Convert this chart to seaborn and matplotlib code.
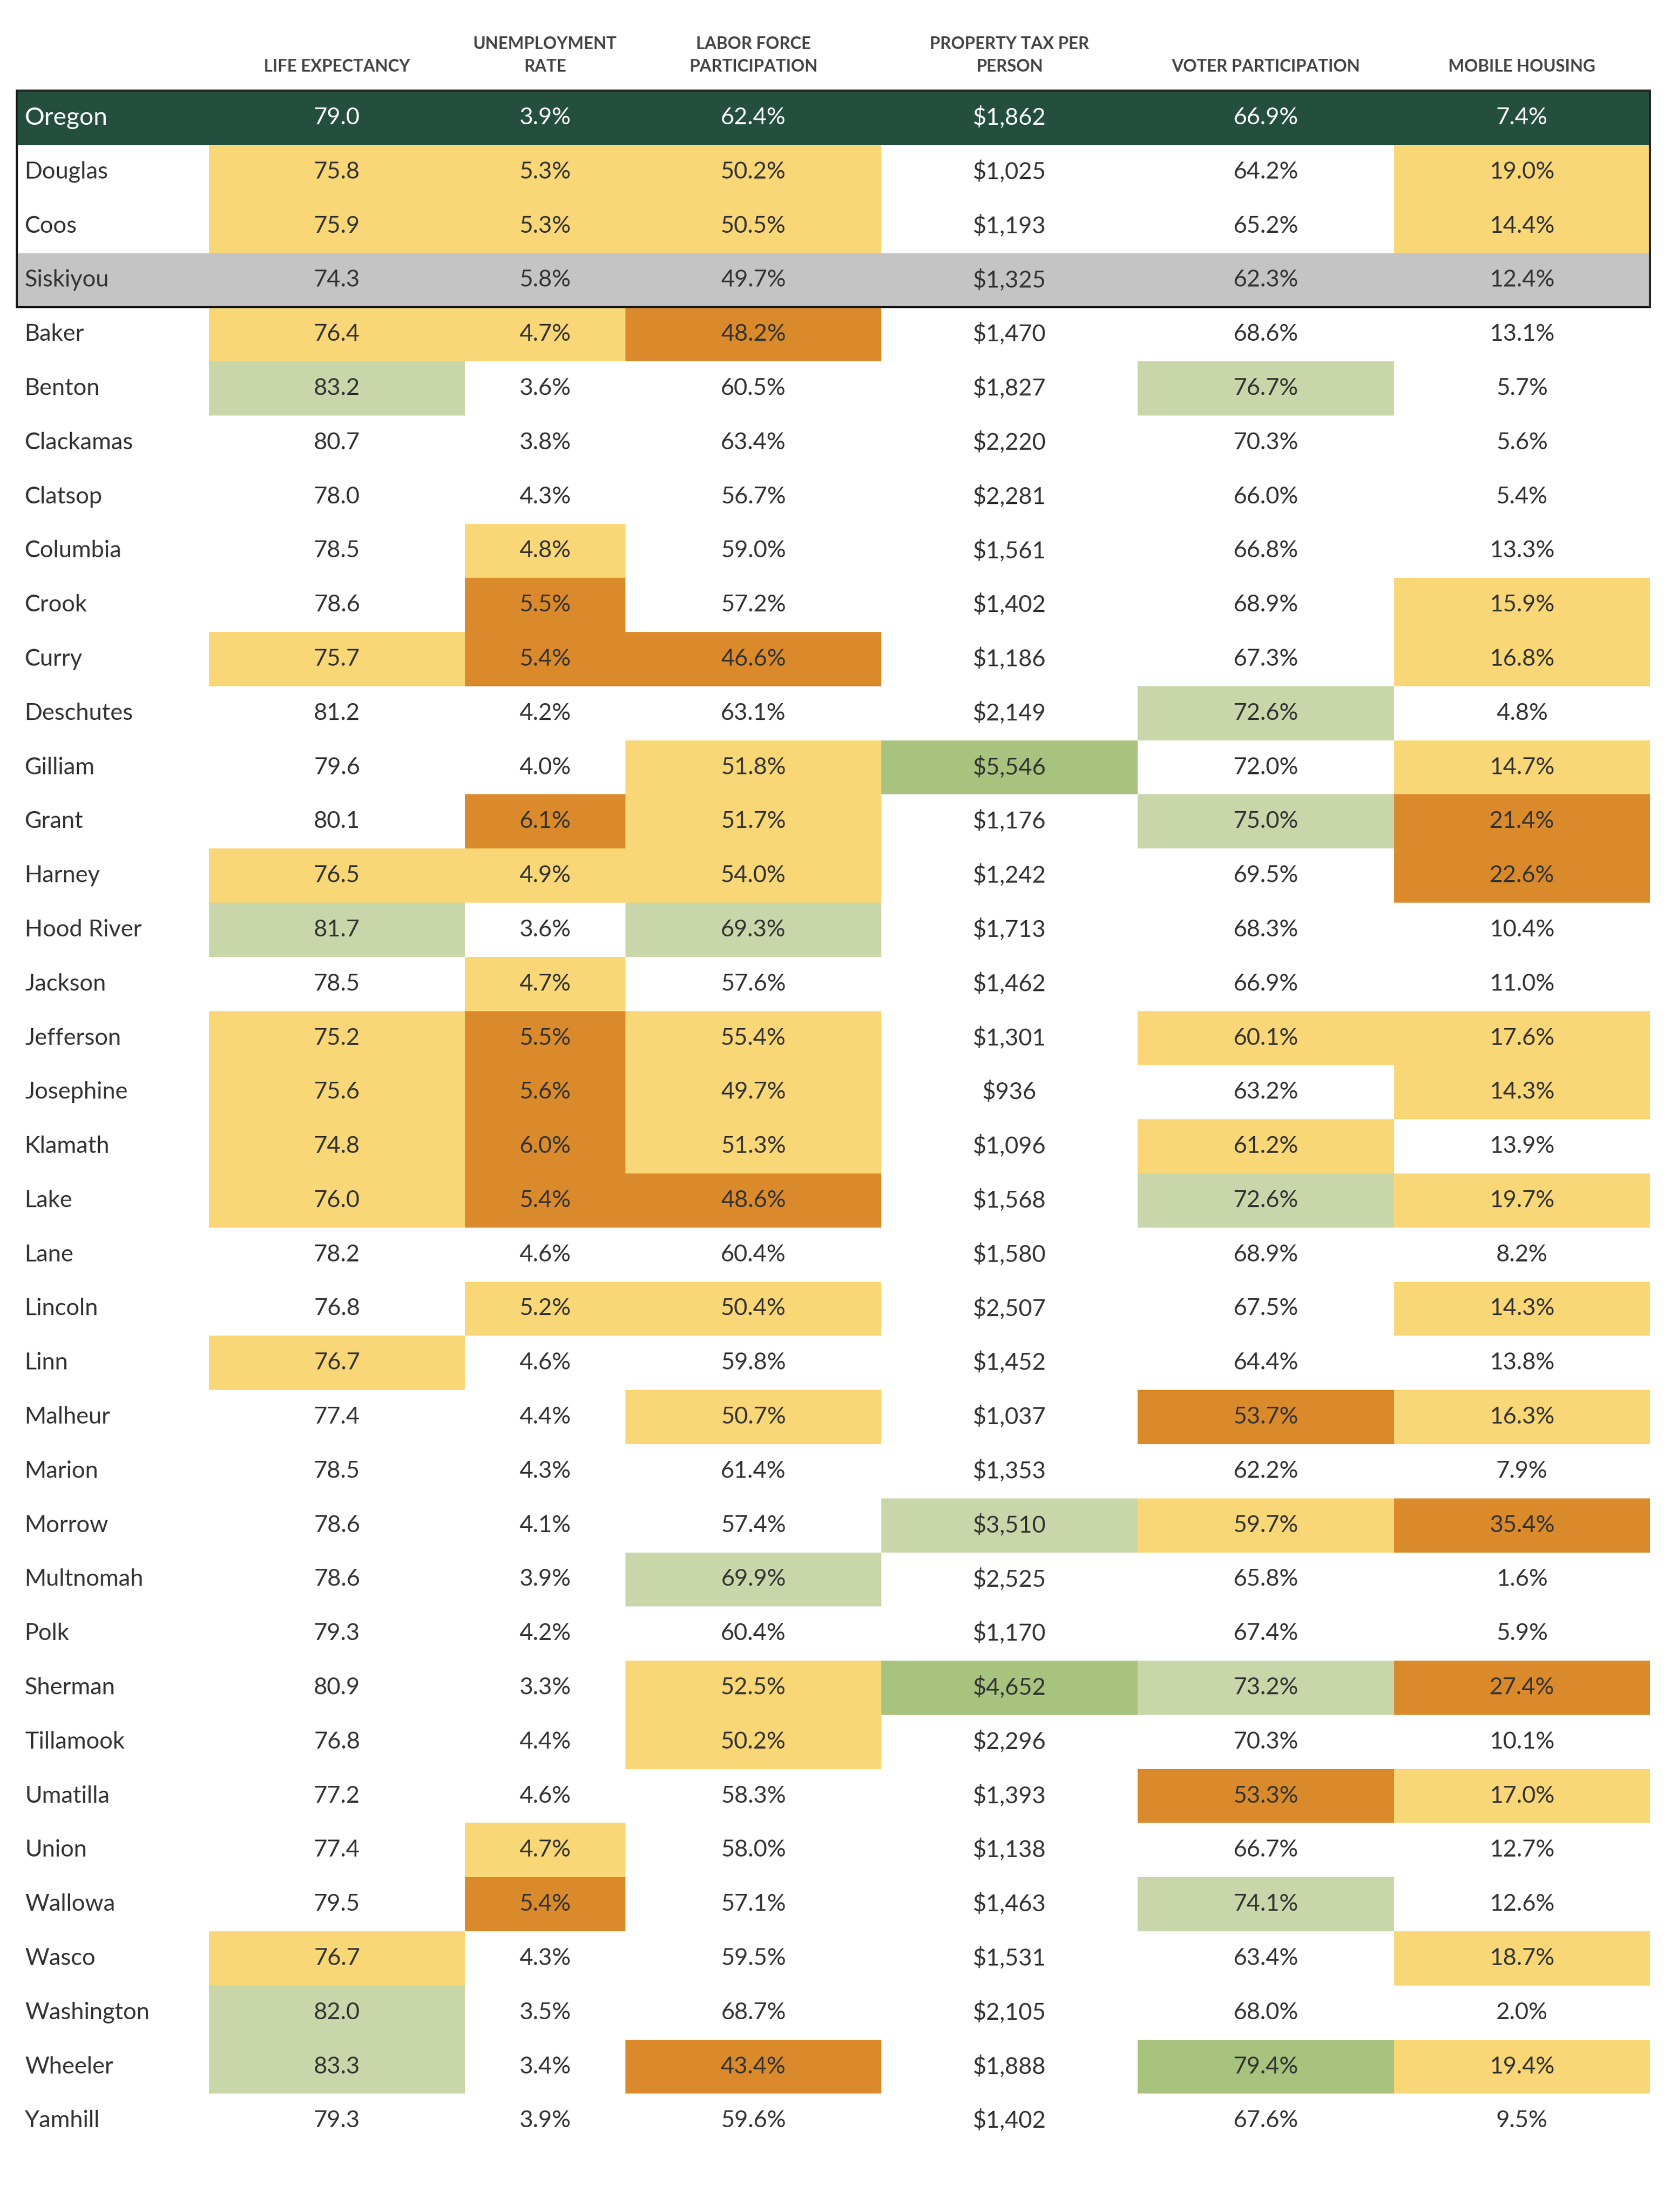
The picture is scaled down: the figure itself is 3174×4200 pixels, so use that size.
import numpy as np
import seaborn as sns
import matplotlib.pyplot as plt
from matplotlib.colors import ListedColormap
from matplotlib.patches import Rectangle

sns.set_theme(style="white")
plt.rcParams['font.family'] = ['Lato', 'DejaVu Sans']

headers = ["LIFE EXPECTANCY", "UNEMPLOYMENT\nRATE", "LABOR FORCE\nPARTICIPATION",
           "PROPERTY TAX PER\nPERSON", "VOTER PARTICIPATION", "MOBILE HOUSING"]

counties = ["Oregon", "Douglas", "Coos", "Siskiyou", "Baker", "Benton", "Clackamas", "Clatsop",
            "Columbia", "Crook", "Curry", "Deschutes", "Gilliam", "Grant", "Harney", "Hood River",
            "Jackson", "Jefferson", "Josephine", "Klamath", "Lake", "Lane", "Lincoln", "Linn",
            "Malheur", "Marion", "Morrow", "Multnomah", "Polk", "Sherman", "Tillamook", "Umatilla",
            "Union", "Wallowa", "Wasco", "Washington", "Wheeler", "Yamhill"]

life = [79.0, 75.8, 75.9, 74.3, 76.4, 83.2, 80.7, 78.0, 78.5, 78.6, 75.7, 81.2, 79.6, 80.1, 76.5, 81.7,
        78.5, 75.2, 75.6, 74.8, 76.0, 78.2, 76.8, 76.7, 77.4, 78.5, 78.6, 78.6, 79.3, 80.9, 76.8, 77.2,
        77.4, 79.5, 76.7, 82.0, 83.3, 79.3]
unemp = [3.9, 5.3, 5.3, 5.8, 4.7, 3.6, 3.8, 4.3, 4.8, 5.5, 5.4, 4.2, 4.0, 6.1, 4.9, 3.6,
         4.7, 5.5, 5.6, 6.0, 5.4, 4.6, 5.2, 4.6, 4.4, 4.3, 4.1, 3.9, 4.2, 3.3, 4.4, 4.6,
         4.7, 5.4, 4.3, 3.5, 3.4, 3.9]
lfp = [62.4, 50.2, 50.5, 49.7, 48.2, 60.5, 63.4, 56.7, 59.0, 57.2, 46.6, 63.1, 51.8, 51.7, 54.0, 69.3,
       57.6, 55.4, 49.7, 51.3, 48.6, 60.4, 50.4, 59.8, 50.7, 61.4, 57.4, 69.9, 60.4, 52.5, 50.2, 58.3,
       58.0, 57.1, 59.5, 68.7, 43.4, 59.6]
proptax = [1862, 1025, 1193, 1325, 1470, 1827, 2220, 2281, 1561, 1402, 1186, 2149, 5546, 1176, 1242, 1713,
           1462, 1301, 936, 1096, 1568, 1580, 2507, 1452, 1037, 1353, 3510, 2525, 1170, 4652, 2296, 1393,
           1138, 1463, 1531, 2105, 1888, 1402]
voter = [66.9, 64.2, 65.2, 62.3, 68.6, 76.7, 70.3, 66.0, 66.8, 68.9, 67.3, 72.6, 72.0, 75.0, 69.5, 68.3,
         66.9, 60.1, 63.2, 61.2, 72.6, 68.9, 67.5, 64.4, 53.7, 62.2, 59.7, 65.8, 67.4, 73.2, 70.3, 53.3,
         66.7, 74.1, 63.4, 68.0, 79.4, 67.6]
mobile = [7.4, 19.0, 14.4, 12.4, 13.1, 5.7, 5.6, 5.4, 13.3, 15.9, 16.8, 4.8, 14.7, 21.4, 22.6, 10.4,
          11.0, 17.6, 14.3, 13.9, 19.7, 8.2, 14.3, 13.8, 16.3, 7.9, 35.4, 1.6, 5.9, 27.4, 10.1, 17.0,
          12.7, 12.6, 18.7, 2.0, 19.4, 9.5]

# colour class per cell: 0 none, 1 yellow, 2 orange, 3 light green, 4 green
codes = [
    [0, 0, 0, 0, 0, 0], [1, 1, 1, 0, 0, 1], [1, 1, 1, 0, 0, 1], [0, 0, 0, 0, 0, 0],
    [1, 1, 2, 0, 0, 0], [3, 0, 0, 0, 3, 0], [0, 0, 0, 0, 0, 0], [0, 0, 0, 0, 0, 0],
    [0, 1, 0, 0, 0, 0], [0, 2, 0, 0, 0, 1], [1, 2, 2, 0, 0, 1], [0, 0, 0, 0, 3, 0],
    [0, 0, 1, 4, 0, 1], [0, 2, 1, 0, 3, 2], [1, 1, 1, 0, 0, 2], [3, 0, 3, 0, 0, 0],
    [0, 1, 0, 0, 0, 0], [1, 2, 1, 0, 1, 1], [1, 2, 1, 0, 0, 1], [1, 2, 1, 0, 1, 0],
    [1, 2, 2, 0, 3, 1], [0, 0, 0, 0, 0, 0], [0, 1, 1, 0, 0, 1], [1, 0, 0, 0, 0, 0],
    [0, 0, 1, 0, 2, 1], [0, 0, 0, 0, 0, 0], [0, 0, 0, 3, 1, 2], [0, 0, 3, 0, 0, 0],
    [0, 0, 0, 0, 0, 0], [0, 0, 1, 4, 3, 2], [0, 0, 1, 0, 0, 0], [0, 0, 0, 0, 2, 1],
    [0, 1, 0, 0, 0, 0], [0, 2, 0, 0, 3, 0], [1, 0, 0, 0, 0, 1], [3, 0, 0, 0, 0, 0],
    [3, 0, 2, 0, 4, 1], [0, 0, 0, 0, 0, 0],
]

palette = ["#FFFFFF", "#F9D676", "#DB8A2B", "#C9D6A9", "#A7C37E", "#244F3F", "#C4C4C4"]
cmap = ListedColormap(palette)

n = len(counties)
grid = np.zeros((n, 7), dtype=int)
grid[:, 1:] = np.array(codes)
grid[0, :] = 5
grid[3, :] = 6

# column widths in grid units (name column + 6 data columns)
widths = [12, 16, 10, 16, 16, 16, 16]
wide = np.repeat(grid, widths, axis=1)
edges = np.concatenate([[0], np.cumsum(widths)])
centers = (edges[:-1] + edges[1:]) / 2

fig = plt.figure(figsize=(31.74, 42), dpi=100)
ax = fig.add_axes([0.01, 0.029, 0.9775, 0.93])
sns.heatmap(wide, cmap=cmap, vmin=-0.5, vmax=6.5, cbar=False, ax=ax,
            xticklabels=False, yticklabels=False, linewidths=0)

cols = [[f"{v:.1f}" for v in life], [f"{v:.1f}%" for v in unemp], [f"{v:.1f}%" for v in lfp],
        [f"${v:,}" for v in proptax], [f"{v:.1f}%" for v in voter], [f"{v:.1f}%" for v in mobile]]

fs = 32
for i, name in enumerate(counties):
    color = "white" if i == 0 else "#333333"
    ax.text(0.5, i + 0.5, name, ha="left", va="center", fontsize=fs + (2 if i == 0 else 0), color=color)
    for j in range(6):
        ax.text(centers[j + 1], i + 0.5, cols[j][i], ha="center", va="center", fontsize=fs, color=color)

for j, h in enumerate(headers):
    ax.text(centers[j + 1], -0.3, h, ha="center", va="bottom", fontsize=23, fontweight="bold",
            color="#444444", linespacing=1.6)

ax.add_patch(Rectangle((0, 0), edges[-1], 4, fill=False, edgecolor="#222222", lw=3, clip_on=False))
ax.set_xlim(0, edges[-1])
ax.set_ylim(n, 0)

fig.savefig("out.png", dpi=100, facecolor="white")
